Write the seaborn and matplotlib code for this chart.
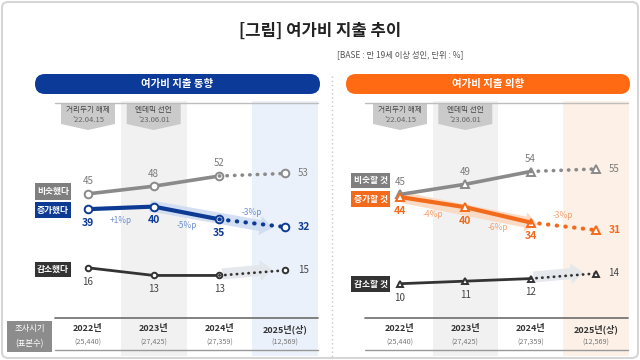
import matplotlib
matplotlib.use('Agg')
import matplotlib.pyplot as plt
import matplotlib.transforms as mtransforms
from matplotlib.patches import Rectangle, Polygon, FancyBboxPatch
from matplotlib.lines import Line2D
import seaborn as sns
import pandas as pd

# ---- data ----
years = ['2022년', '2023년', '2024년', '2025년(상)']
samples = ['(25,440)', '(27,425)', '(27,359)', '(12,569)']
events = ['거리두기 해제', '엔데믹 선언']
event_dates = ["'22.04.15", "'23.06.01"]

past_labels = ['비슷했다', '증가했다', '감소했다']
past_similar = [45, 48, 52, 53]
past_increase = [39, 40, 35, 32]
past_decrease = [16, 13, 13, 15]
past_diff = ['+1%p', '-5%p', '-3%p']

plan_labels = ['비슷할 것', '증가할 것', '감소할 것']
plan_similar = [45, 49, 54, 55]
plan_increase = [44, 40, 34, 31]
plan_decrease = [10, 11, 12, 14]
plan_diff = ['-4%p', '-6%p', '-3%p']

W, H = 640, 360
sns.set_theme(style='white')
plt.rcParams['font.family'] = ['Noto Sans CJK KR', 'DejaVu Sans']

fig = plt.figure(figsize=(6.4, 3.6), dpi=100)
fig.patch.set_facecolor('white')
# pixel transform (y downwards) for layout decorations
pix = mtransforms.Affine2D().scale(1 / W, -1 / H).translate(0, 1) + fig.transFigure


def prect(x0, y0, x1, y1, **kw):
    fig.patches.append(Rectangle((x0, y0), x1 - x0, y1 - y0, transform=pix, **kw))


def ptext(x, y, s, **kw):
    fig.text(x, y, s, transform=pix, **kw)


def pline(xs, ys, **kw):
    fig.lines.append(Line2D(xs, ys, transform=pix, **kw))


# outer frame, title
fig.patches.append(FancyBboxPatch((2, 2), W - 4, H - 4, boxstyle='round,pad=0,rounding_size=6',
                                  transform=pix, fc='none', ec='#d5d5d5', lw=1.5, zorder=5))
ptext(320, 31, '[그림] 여가비 지출 추이', ha='center', va='center', fontsize=12,
      weight='bold', color='#222222')
ptext(400, 55, '[BASE : 만 19세 이상 성인, 단위 : %]', ha='center', va='center',
      fontsize=6, color='#555555')
pline([332, 332], [76, 358], color='#c8c8c8', lw=1, ls=(0, (1, 2)))

panels = [
    dict(x0=35, x1=320, first=88, step=65.7, ref_v=52, ref_y=176, scale=2.55,
         head='여가비 지출 동향', head_c='#0b3a98', main='#0d3b94', diff_c='#6d8fd0',
         arrow_c='#cfdcf2', shade='#eaf1fa', marker='o', ms=5.5,
         labels=past_labels, series=[past_similar, past_increase, past_decrease],
         diff=past_diff, tab_x0=55,
         boxes=[(35, 71, 183, 200), (35, 71, 202, 218), (35, 71, 262, 277)]),
    dict(x0=346, x1=630, first=400, step=65.3, ref_v=54, ref_y=171.5, scale=2.55,
         head='여가비 지출 의향', head_c='#ff6a13', main='#f26b1d', diff_c='#f4a06c',
         arrow_c='#fbd8c0', shade='#fdf1e7', marker='^', ms=6,
         labels=plan_labels, series=[plan_similar, plan_increase, plan_decrease],
         diff=plan_diff, tab_x0=365,
         boxes=[(351, 390, 173, 188), (351, 390, 191, 207), (351, 390, 276, 292)]),
]

top_px, bot_px = 98, 358
for p in panels:
    def xp(i, p=p):
        return p['first'] + i * p['step']

    # header pill
    fig.patches.append(FancyBboxPatch((p['x0'], 74), p['x1'] - p['x0'], 20,
                                      boxstyle='round,pad=0,rounding_size=10', transform=pix,
                                      fc=p['head_c'], ec='none'))
    ptext((p['x0'] + p['x1']) / 2, 84, p['head'], ha='center', va='center', fontsize=7.5,
          weight='bold', color='white')

    # column shading
    prect(xp(1) - p['step'] / 2, 101, xp(1) + p['step'] / 2, 356, fc='#f1f1f1', ec='none', zorder=-2)
    prect(xp(3) - p['step'] / 2, 101, xp(3) + p['step'] / 2, 356, fc=p['shade'], ec='none', zorder=-2)
    pline([p['tab_x0'], p['x1'] - 2], [103, 103], color='#bdbdbd', lw=1)

    # event tags
    for i, (ev, dt) in enumerate(zip(events, event_dates)):
        c = xp(i)
        fig.patches.append(Polygon([(c - 27, 103), (c + 27, 103), (c + 27, 124), (c, 130), (c - 27, 124)],
                                   closed=True, transform=pix, fc='#cacaca', ec='none'))
        ptext(c, 110, ev, ha='center', va='center', fontsize=5.5, color='#444444')
        ptext(c, 120, dt, ha='center', va='center', fontsize=5.5, color='#666666')

    # bottom table
    pline([p['tab_x0'], p['x1'] - 2], [318, 318], color='#777777', lw=1.3)
    pline([p['tab_x0'], p['x1'] - 2], [350, 350], color='#999999', lw=1)
    for i in range(4):
        ptext(xp(i), 329, years[i], ha='center', va='center', fontsize=6.5, weight='bold', color='#333333')
        ptext(xp(i), 343, samples[i], ha='center', va='center', fontsize=5.2, color='#777777')

    # axes mapped to pixel geometry
    ax = fig.add_axes([p['x0'] / W, 1 - bot_px / H, (p['x1'] - p['x0']) / W, (bot_px - top_px) / H])
    ax.set_facecolor('none')
    ax.axis('off')
    ax.set_xlim((p['x0'] - p['first']) / p['step'], (p['x1'] - p['first']) / p['step'])
    ax.set_ylim(p['ref_v'] - (bot_px - p['ref_y']) / p['scale'],
                p['ref_v'] + (p['ref_y'] - top_px) / p['scale'])

    sim, inc, dec = p['series']
    colors = ['#8a8a8a', p['main'], '#333333']
    widths = [2.6, 3.0, 2.0]

    # soft trend arrows behind lines
    if p['marker'] == 'o':
        ax.annotate('', xy=(2.85, inc[3] - 0.5), xytext=(0.9, inc[1] + 0.5),
                    arrowprops=dict(arrowstyle='simple,head_length=0.9,head_width=1.4,tail_width=0.8',
                                    mutation_scale=10, fc=p['arrow_c'], ec='none', alpha=0.9), zorder=1)
    else:
        ax.annotate('', xy=(2.15, inc[2] - 1), xytext=(0.0, inc[0]),
                    arrowprops=dict(arrowstyle='simple,head_length=0.9,head_width=1.4,tail_width=0.8',
                                    mutation_scale=10, fc=p['arrow_c'], ec='none', alpha=0.9), zorder=1)
    ax.annotate('', xy=(2.85, dec[3] + 0.5), xytext=(2.0, dec[2] + 0.5),
                arrowprops=dict(arrowstyle='simple,head_length=0.9,head_width=1.5,tail_width=0.8',
                                mutation_scale=10, fc='#e3e6ea', ec='none', alpha=0.9), zorder=1)

    for vals, c, lw in zip([sim, inc, dec], colors, widths):
        df = pd.DataFrame({'x': range(4), 'v': vals})
        ms = p['ms'] if lw > 2.1 else p['ms'] - 1.5
        sns.lineplot(data=df.iloc[:3], x='x', y='v', ax=ax, color=c, lw=lw, marker=p['marker'],
                     markersize=ms, markerfacecolor='white', markeredgecolor=c,
                     markeredgewidth=1.4, zorder=3)
        sns.lineplot(data=df.iloc[2:], x='x', y='v', ax=ax, color=c, lw=lw, ls=(0, (0.1, 2.0)),
                     dash_capstyle='round', marker=p['marker'], markevery=[1], markersize=ms,
                     markerfacecolor='white', markeredgecolor=c, markeredgewidth=1.4, zorder=3)
    ax.set_xlabel('')
    ax.set_ylabel('')

    # value labels
    for i in range(4):
        side = i == 3
        ax.annotate(str(sim[i]), (i, sim[i]), xytext=(9, 0) if side else (0, 9),
                    textcoords='offset points', ha='left' if side else 'center', va='center',
                    fontsize=7, color='#7a7a7a')
        ax.annotate(str(inc[i]), (i, inc[i]), xytext=(9, 0) if side else (0, -10),
                    textcoords='offset points', ha='left' if side else 'center', va='center',
                    fontsize=7.5, weight='bold', color=p['main'])
        ax.annotate(str(dec[i]), (i, dec[i]), xytext=(9, 0) if side else (0, -10),
                    textcoords='offset points', ha='left' if side else 'center', va='center',
                    fontsize=7, color='#444444')
    for i, d in enumerate(p['diff']):
        mid = (inc[i] + inc[i + 1]) / 2
        off = 8 if i == 2 else -9
        ax.annotate(d, (i + 0.5, mid), xytext=(0, off), textcoords='offset points',
                    ha='center', va='center', fontsize=6, color=p['diff_c'])

    # series label boxes
    for (bx0, bx1, by0, by1), lab, c in zip(p['boxes'], p['labels'],
                                             ['#7f7f7f', p['main'], '#333333']):
        prect(bx0, by0, bx1, by1, fc=c, ec='none', zorder=4)
        ptext((bx0 + bx1) / 2, (by0 + by1) / 2, lab, ha='center', va='center', fontsize=6.3,
              weight='bold', color='white', zorder=5)

# survey-period box (left only)
prect(7, 321, 52, 352, fc='#8c8c8c', ec='none')
ptext(29.5, 329, '조사시기', ha='center', va='center', fontsize=6, color='white')
ptext(29.5, 344, '(표본수)', ha='center', va='center', fontsize=6, color='white')

fig.savefig('out.png', dpi=100, facecolor='white')
